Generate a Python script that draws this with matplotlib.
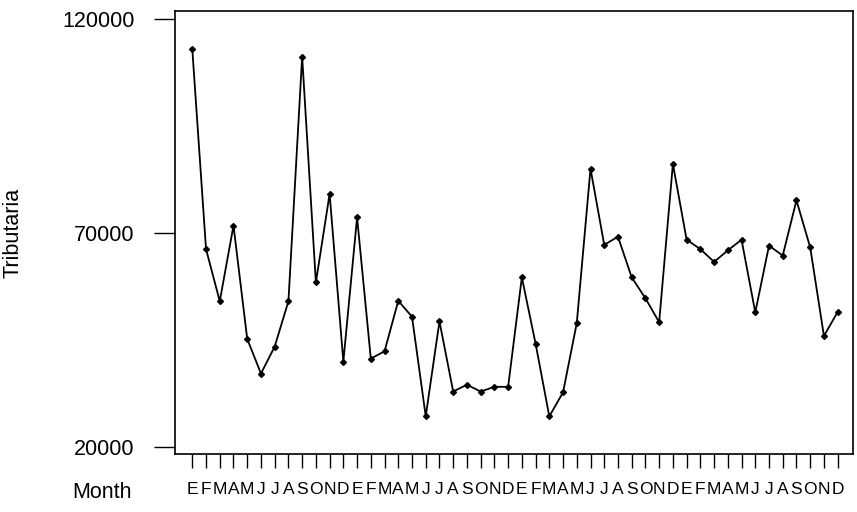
import matplotlib
matplotlib.use('Agg')
import matplotlib.pyplot as plt

# monthly values (4 years, Jan..Dec)
months = ['E', 'F', 'M', 'A', 'M', 'J', 'J', 'A', 'S', 'O', 'N', 'D']
tributaria = [
    112900, 66200, 54000, 71700, 45200, 37100, 43400, 54000, 111200, 58400, 79100, 39900,
    73600, 40600, 42300, 54100, 50400, 27100, 49300, 32900, 34500, 32900, 34000, 34000,
    59600, 44100, 27100, 32700, 48900, 85000, 67200, 69100, 59600, 54700, 49100, 86100,
    68400, 66200, 63200, 65900, 68400, 51400, 67000, 64700, 77600, 66600, 45900, 51500,
]
tick_labels = months * 4
y_ticks = [20000, 70000, 120000]

plt.rcParams['font.family'] = ['Liberation Sans', 'DejaVu Sans']

fig = plt.figure(figsize=(8.57, 5.12), dpi=100)
ax = fig.add_axes([0.2042, 0.1127, 0.7915, 0.8664])

x = list(range(1, len(tributaria) + 1))
ax.plot(x, tributaria, color='black', linewidth=1.3, marker='D', markersize=3,
        markerfacecolor='black', markeredgecolor='black')

ax.set_xlim(1 - 1.26, len(tributaria) + 1.14)
ax.set_ylim(18224, 121940)

ax.set_yticks(y_ticks)
ax.set_yticklabels([str(v) for v in y_ticks], fontsize=15.5)
# month letters are squeezed together in the original
ax.set_xticks(x)
ax.set_xticklabels(tick_labels, fontsize=12.5)

ax.tick_params(axis='y', direction='out', length=15, width=1, pad=14)
ax.tick_params(axis='x', direction='out', length=10, width=1, pad=10)

for sp in ax.spines.values():
    sp.set_linewidth(1.2)

ax.set_ylabel('Tributaria', fontsize=15.5)
ax.yaxis.set_label_coords(-0.224, 0.5)
ax.text(-0.1076, -0.085, 'Month', transform=ax.transAxes, fontsize=15.5,
        ha='center', va='center')

fig.savefig('out.png', dpi=100)
